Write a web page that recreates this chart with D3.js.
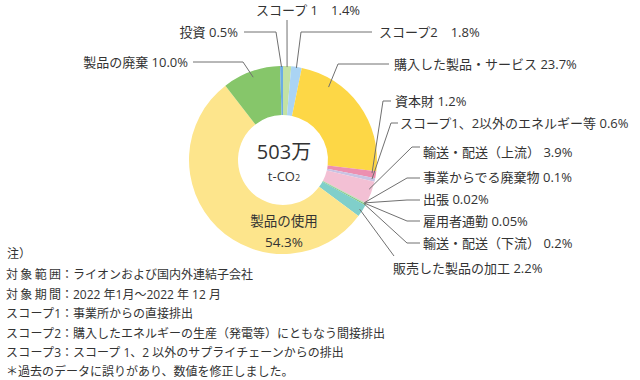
<!DOCTYPE html>
<html>
  <head>
    <meta charset="utf-8">
    <title>Scope emissions donut</title>
    <style>
      body { margin: 0; background: #fff; }
      text { font-family: "Open Sans", "Noto Sans CJK JP", sans-serif; fill: #333; }
    </style>
  </head>
  <body>
    <script src="https://cdnjs.cloudflare.com/ajax/libs/d3/7.8.5/d3.min.js"></script>
    <script>
      // categories, clockwise from 12 o'clock
      let categories = ['スコープ 1', 'スコープ2', '購入した製品・サービス', '資本財',
                        'スコープ1、2以外のエネルギー等', '輸送・配送（上流）', '事業からでる廃棄物',
                        '出張', '雇用者通勤', '輸送・配送（下流）', '販売した製品の加工',
                        '製品の使用', '製品の廃棄', '投資'];
      let shares = [1.4, 1.8, 23.7, 1.2, 0.6, 3.9, 0.1, 0.02, 0.05, 0.2, 2.2, 54.3, 10.0, 0.5];
      let shareLabels = ['1.4%', '1.8%', '23.7%', '1.2%', '0.6%', '3.9%', '0.1%',
                         '0.02%', '0.05%', '0.2%', '2.2%', '54.3%', '10.0%', '0.5%'];
      let colors = ['#c3e2a3', '#aad4f4', '#fdd746', '#ec8fb0', '#c9c3e3', '#f3c0d4', '#a8d68a',
                    '#d6d6d6', '#9cc8e4', '#80c46c', '#80cfca', '#fde58c', '#86c66a', '#6cace4'];
      let totalText = '503万';
      let unitText = 't-CO';
      let noteKeys = ['対象範囲', '対象期間', 'スコープ1', 'スコープ2', 'スコープ3'];
      let noteBodies = ['ライオンおよび国内外連結子会社',
                        '2022 年1月〜2022 年 12 月',
                        '事業所からの直接排出',
                        '購入したエネルギーの生産（発電等）にともなう間接排出',
                        'スコープ 1、2 以外のサプライチェーンからの排出'];

      let width = 640, height = 380;
      let cx = 283, cy = 160, outerR = 94, innerR = 45;

      // leader layout: where in the slice the line starts (t along arc, r), elbow, end of tick, text
      let leaders = [
        {t: 0.5, r: 93, ex: 287, ey: 20, hx: 287, tx: 256, ty: 15, sep: '\u3000', anchor: 'start'},
        {t: 0.5, r: 93, ex: 301, ey: 32, hx: 372, tx: 379, ty: 37, sep: '\u3000', anchor: 'start'},
        {t: 0.24, r: 86, ex: 338, ey: 64, hx: 389, tx: 394, ty: 69, sep: ' ', anchor: 'start'},
        {t: 0.35, r: 90, ex: 383, ey: 101, hx: 391, tx: 395, ty: 106, sep: ' ', anchor: 'start'},
        {t: 0.4, r: 91, ex: 391, ey: 123, hx: 398, tx: 400, ty: 128, sep: ' ', anchor: 'start'},
        {t: 0.38, r: 91, ex: 412, ey: 147, hx: 420, tx: 423, ty: 157, sep: ' ', anchor: 'start'},
        {t: 0.5, r: 92, ex: 407, ey: 178, hx: 420, tx: 423, ty: 182, sep: ' ', anchor: 'start'},
        {t: 0.5, r: 92, ex: 407, ey: 200, hx: 420, tx: 423, ty: 204, sep: ' ', anchor: 'start'},
        {t: 0.5, r: 92, ex: 407, ey: 221, hx: 420, tx: 423, ty: 226, sep: ' ', anchor: 'start'},
        {t: 0.5, r: 92, ex: 407, ey: 243, hx: 420, tx: 423, ty: 248, sep: ' ', anchor: 'start'},
        {t: 0.5, r: 91, ex: 394, ey: 256, hx: 394, tx: 393, ty: 273, sep: ' ', anchor: 'start'},
        null,
        {t: 0.5, r: 88, ex: 243, ey: 62, hx: 193, tx: 188, ty: 67, sep: ' ', anchor: 'end'},
        {t: 0.5, r: 93, ex: 276, ey: 32, hx: 244, tx: 238, ty: 37, sep: ' ', anchor: 'end'}
      ];

      let svg = d3.select('body')
                  .append('svg')
                  .attr('width', width)
                  .attr('height', height);

      let pie = d3.pie()
                  .sort(null)
                  .value((d) => d)
                  .startAngle(0)
                  .endAngle(2 * Math.PI);

      let arc = d3.arc()
                  .innerRadius(innerR)
                  .outerRadius(outerR);

      let slices = pie(shares);
      let color = d3.scaleOrdinal()
                    .domain(categories)
                    .range(colors);

      let ring = svg.append('g')
                    .attr('transform', `translate(${cx},${cy})`);

      ring.selectAll('path')
          .data(slices)
          .enter()
            .append('path')
            .attr('d', arc)
            .attr('fill', (d, i) => color(categories[i]));

      // leader lines + labels
      let line = d3.line();
      slices.forEach((s, i) => {
        let L = leaders[i];
        if (!L) return;
        let a = s.startAngle + L.t * (s.endAngle - s.startAngle);
        let p = [cx + L.r * Math.sin(a), cy - L.r * Math.cos(a)];
        svg.append('path')
           .attr('d', line([p, [L.ex, L.ey], [L.hx, L.ey]]))
           .attr('fill', 'none')
           .attr('stroke', '#707070')
           .attr('stroke-width', 1);
        svg.append('text')
           .attr('x', L.tx)
           .attr('y', L.ty)
           .attr('text-anchor', L.anchor)
           .attr('font-size', 13)
           .text(categories[i] + L.sep + shareLabels[i]);
      });

      // label inside the big slice
      svg.append('text')
         .attr('x', cx + 1).attr('y', 226)
         .attr('text-anchor', 'middle')
         .attr('font-size', 13.5)
         .text(categories[11]);
      svg.append('text')
         .attr('x', cx + 1).attr('y', 247)
         .attr('text-anchor', 'middle')
         .attr('font-size', 13.5)
         .text(shareLabels[11]);

      // centre total
      svg.append('text')
         .attr('x', cx + 1)
         .attr('y', 159)
         .attr('text-anchor', 'middle')
         .attr('font-size', 20)
         .text(totalText);
      let unit = svg.append('text')
                    .attr('x', cx + 1)
                    .attr('y', 181)
                    .attr('text-anchor', 'middle')
                    .attr('font-size', 13);
      unit.append('tspan').text(unitText);
      unit.append('tspan').attr('font-size', 9).text('2');

      // notes
      let notes = svg.append('g');
      notes.append('text').attr('x', 7).attr('y', 258).attr('font-size', 12).text('注）');
      noteKeys.forEach((k, i) => {
        let y = 279 + i * 19.6;
        notes.append('text')
             .attr('x', 6).attr('y', y)
             .attr('font-size', 12)
             .attr('textLength', 55)
             .attr('lengthAdjust', 'spacing')
             .text(k);
        notes.append('text').attr('x', 61).attr('y', y).attr('font-size', 12).text('：');
        notes.append('text').attr('x', 73).attr('y', y).attr('font-size', 12).text(noteBodies[i]);
      });
      notes.append('text')
           .attr('x', 6).attr('y', 376)
           .attr('font-size', 12)
           .text('＊過去のデータに誤りがあり、数値を修正しました。');
    </script>
  </body>
</html>
